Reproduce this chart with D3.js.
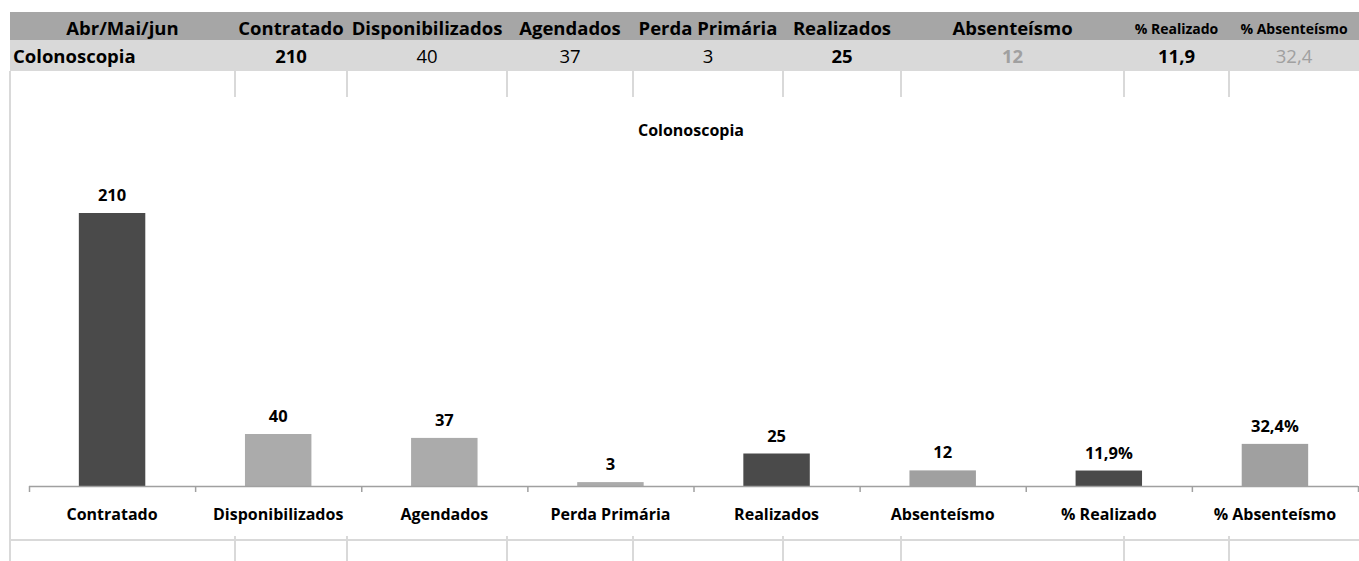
<!doctype html>
<html>
<head>
  <meta charset="utf-8" />
  <script src="https://cdnjs.cloudflare.com/ajax/libs/d3/7.8.5/d3.min.js"></script>
  <style>
  body{
    margin: 0;
    background: #ffffff;
    font-family: "Open Sans", "Noto Sans", sans-serif;
  }
  .grid{
    stroke: #d9d9d9;
    stroke-width: 2;
  }
  .lbl{
    font-weight: bold;
    font-size: 16px;
    fill: #000;
  }
  .val{
    font-size: 16.5px;
  }
  </style>
</head>
<body>
  <div id="viz"></div>

  <script>
  // dados
  var periodo = 'Abr/Mai/jun';
  var procedimento = 'Colonoscopia';
  var categorias = ['Contratado', 'Disponibilizados', 'Agendados', 'Perda Primária', 'Realizados', 'Absenteísmo', '% Realizado', '% Absenteísmo'];
  var valores = [210, 40, 37, 3, 25, 12, 11.9, 32.4];
  var ehPercentual = [false, false, false, false, false, false, true, true];

  var width = 1359, height = 561;

  // colunas da tabela (limites em px)
  var colunas = [10, 235, 347, 507, 633, 783, 901, 1124, 1229, 1359];
  var cabTamanho = [18.5, 18.5, 18.5, 18.5, 18.5, 18.5, 18.5, 14, 14];
  var celPeso = ['bold', 'normal', 'normal', 'normal', 'bold', 'bold', 'bold', 'normal'];
  var celCor = ['#000', '#000', '#000', '#000', '#000', '#a0a0a0', '#000', '#a0a0a0'];
  var corBarra = ['#4a4a4a', '#ababab', '#ababab', '#ababab', '#4a4a4a', '#a0a0a0', '#4a4a4a', '#a0a0a0'];

  var fmt = function(v){ return String(v).replace('.', ','); };

  var svg = d3.select('#viz').append('svg')
    .attr('width', width)
    .attr('height', height);

  // ---- tabela ----
  svg.append('rect').attr('x', 10).attr('y', 12).attr('width', width - 10).attr('height', 28).attr('fill', '#a6a6a6');
  svg.append('rect').attr('x', 10).attr('y', 40).attr('width', width - 10).attr('height', 31).attr('fill', '#d9d9d9');

  var cab = [periodo].concat(categorias);
  svg.selectAll('.cab')
    .data(cab)
    .enter().append('text')
    .attr('class', 'cab')
    .attr('x', function(d, i){ return (colunas[i] + colunas[i + 1]) / 2; })
    .attr('y', function(d, i){ return cabTamanho[i] < 16 ? 34 : 35; })
    .attr('text-anchor', 'middle')
    .attr('font-weight', 'bold')
    .attr('font-size', function(d, i){ return cabTamanho[i]; })
    .text(function(d){ return d; });

  svg.append('text')
    .attr('x', 13).attr('y', 63)
    .attr('font-weight', 'bold').attr('font-size', 18.5)
    .text(procedimento);

  svg.selectAll('.cel')
    .data(valores)
    .enter().append('text')
    .attr('class', 'cel')
    .attr('x', function(d, i){ return (colunas[i + 1] + colunas[i + 2]) / 2; })
    .attr('y', 63)
    .attr('text-anchor', 'middle')
    .attr('font-size', 18.5)
    .attr('font-weight', function(d, i){ return celPeso[i]; })
    .attr('fill', function(d, i){ return celCor[i]; })
    .text(fmt);

  // linhas de grade da planilha
  var grade = svg.append('g');
  grade.append('line').attr('class', 'grid').attr('x1', 10).attr('x2', 10).attr('y1', 71).attr('y2', height);
  grade.append('line').attr('class', 'grid').attr('x1', 10).attr('x2', width).attr('y1', 540).attr('y2', 540);
  colunas.slice(1, -1).forEach(function(x){
    grade.append('line').attr('class', 'grid').attr('x1', x).attr('x2', x).attr('y1', 71).attr('y2', 97);
    grade.append('line').attr('class', 'grid').attr('x1', x).attr('x2', x).attr('y1', 536).attr('y2', height);
  });

  // ---- grafico ----
  var x = d3.scaleBand()
    .domain(categorias)
    .range([29, 1358])
    .paddingInner(0.6)
    .paddingOuter(0.3);

  var y = d3.scaleLinear()
    .domain([0, 210])
    .range([486, 213]);

  svg.append('text')
    .attr('x', 691).attr('y', 136)
    .attr('text-anchor', 'middle')
    .attr('class', 'lbl')
    .text(procedimento);

  svg.selectAll('.bar')
    .data(valores)
    .enter().append('rect')
    .attr('class', 'bar')
    .attr('x', function(d, i){ return x(categorias[i]); })
    .attr('width', x.bandwidth())
    .attr('y', function(d){ return y(d); })
    .attr('height', function(d){ return y(0) - y(d); })
    .attr('fill', function(d, i){ return corBarra[i]; });

  svg.selectAll('.val')
    .data(valores)
    .enter().append('text')
    .attr('class', 'lbl val')
    .attr('x', function(d, i){ return x(categorias[i]) + x.bandwidth() / 2; })
    .attr('y', function(d){ return y(d) - 12; })
    .attr('text-anchor', 'middle')
    .text(function(d, i){ return fmt(d) + (ehPercentual[i] ? '%' : ''); });

  // eixo x com marcas entre categorias
  var xLinha = d3.scaleLinear().domain([0, categorias.length]).range([29, 1358]);
  var eixo = d3.axisBottom(xLinha)
    .tickValues(d3.range(0, categorias.length + 1))
    .tickSize(6)
    .tickFormat('');

  var gEixo = svg.append('g')
    .attr('transform', 'translate(0,486)')
    .call(eixo);
  gEixo.select('.domain').attr('stroke', '#a0a0a0').attr('stroke-width', 1.5).attr('d', 'M29,0.5H1358');
  gEixo.selectAll('.tick line').attr('stroke', '#a0a0a0').attr('stroke-width', 1.5);

  svg.selectAll('.cat')
    .data(categorias)
    .enter().append('text')
    .attr('class', 'lbl cat')
    .attr('x', function(d){ return x(d) + x.bandwidth() / 2; })
    .attr('y', 520)
    .attr('text-anchor', 'middle')
    .text(function(d){ return d; });
  </script>
</body>
</html>
